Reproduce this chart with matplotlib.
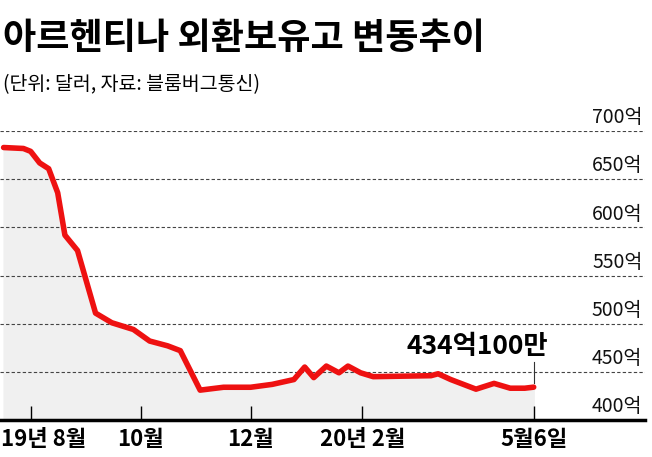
import matplotlib.pyplot as plt
import matplotlib.transforms as mtransforms
import pandas as pd

plt.rcParams['font.family'] = ['Noto Sans CJK KR', 'DejaVu Sans']

dates = ['2019-07-17', '2019-07-28', '2019-08-01', '2019-08-06', '2019-08-11', '2019-08-16',
         '2019-08-20', '2019-08-27', '2019-09-06', '2019-09-15', '2019-09-27', '2019-10-06',
         '2019-10-16', '2019-10-23', '2019-11-03', '2019-11-16', '2019-12-01', '2019-12-13',
         '2019-12-25', '2019-12-31', '2020-01-05', '2020-01-12', '2020-01-19', '2020-01-24',
         '2020-01-31', '2020-02-07', '2020-03-10', '2020-03-14', '2020-03-21', '2020-03-28',
         '2020-04-04', '2020-04-14', '2020-04-23', '2020-05-01', '2020-05-06']
reserves = [683, 682, 679, 667, 661, 636, 592, 576, 511, 501, 494, 482, 477, 472, 431, 434,
            434, 437, 442, 455, 444, 456, 449, 456, 449, 445, 446, 448, 442, 437, 432, 438,
            433, 433, 434.1]
tick_dates = ['2019-08-01', '2019-10-01', '2019-12-01', '2020-02-01', '2020-05-06']
tick_labels = ['19년 8월', '10월', '12월', '20년 2월', '5월6일']
y_levels = [400, 450, 500, 550, 600, 650, 700]

x = pd.to_datetime(dates)
fig = plt.figure(figsize=(6.52, 4.57), dpi=100)
ax = fig.add_axes([0, 0.081, 0.99, 0.632])

ax.fill_between(x, reserves, 400, color='#f0f0f0', zorder=1)
ax.plot(x, reserves, color='#ee1111', linewidth=4, solid_capstyle='round', zorder=3)

ax.set_ylim(400, 700)
ax.set_xlim(pd.Timestamp('2019-07-15'), pd.Timestamp('2020-07-07'))
for v in y_levels[1:]:
    ax.axhline(v, color='#444444', linestyle=(0, (3, 2)), linewidth=0.8, zorder=2)
for v in y_levels:
    ax.text(0.995, v + 3, f'{v}억', transform=ax.get_yaxis_transform(), ha='right', va='bottom',
            fontsize=14, color='#111111')

ax.set_yticks([])
ax.set_xticks(pd.to_datetime(tick_dates))
ax.set_xticklabels(tick_labels, fontsize=16, fontweight='bold')
ax.tick_params(axis='x', direction='in', length=10, width=1, pad=6)
first = ax.get_xticklabels()[0]
first.set_ha('left')
first.set_transform(first.get_transform() + mtransforms.ScaledTranslation(-0.3, 0, fig.dpi_scale_trans))
for s in ['top', 'left', 'right']:
    ax.spines[s].set_visible(False)
ax.spines['bottom'].set_linewidth(2.5)

ax.plot([x[-1], x[-1]], [438, 460], color='#333333', linewidth=0.8)
ax.text(pd.Timestamp('2020-04-05'), 462, '434억100만', ha='center', va='bottom',
        fontsize=19, fontweight='bold')

fig.text(0.005, 0.915, '아르헨티나 외환보유고 변동추이', fontsize=26, fontweight='bold', va='center')
fig.text(0.005, 0.815, '(단위: 달러, 자료: 블룸버그통신)', fontsize=14, va='center')

fig.savefig('out.png', dpi=100)
